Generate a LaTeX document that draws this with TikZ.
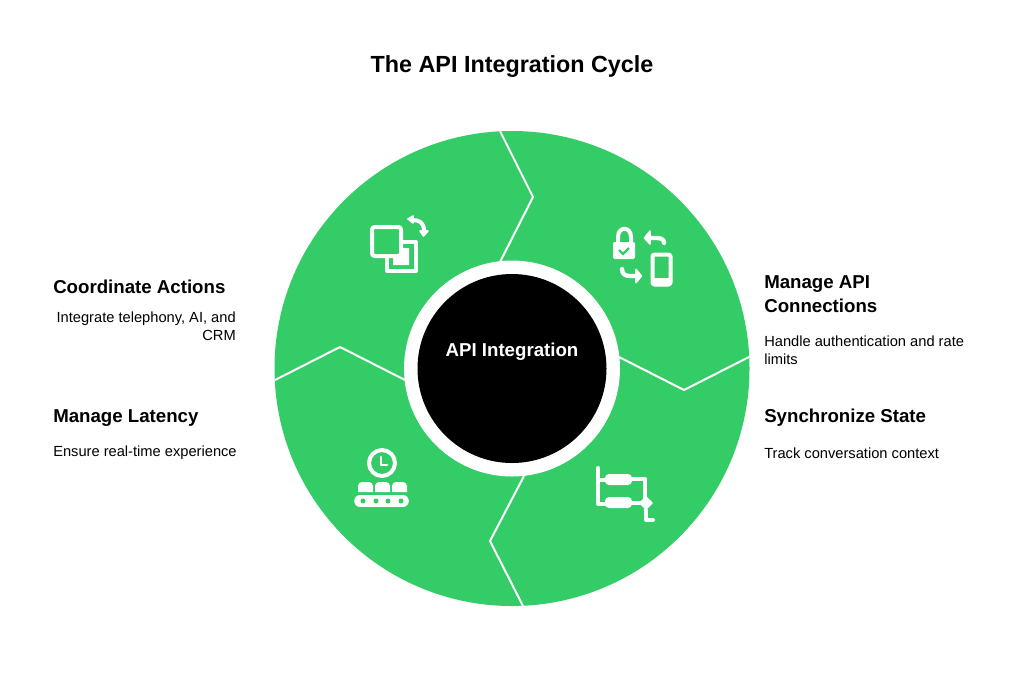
\documentclass[tikz,border=0pt]{standalone}
\usepackage{fontspec}
\setmainfont{Liberation Sans}
\definecolor{wheelgreen}{HTML}{33CC66}
\tikzset{
 titletext/.style={font=\bfseries\fontsize{17.5}{22}\selectfont},
 headtext/.style={font=\bfseries\fontsize{14}{18}\selectfont,align=left,inner sep=0pt},
 bodytext/.style={font=\fontsize{11}{13.5}\selectfont,inner sep=0pt},
 sep/.style={white,line width=1.5pt,line join=miter},
 icon/.style={white,line width=3pt,line cap=round,line join=round},
 tip/.style={draw=white,fill=white,line width=1.2pt,line join=round}
}
\begin{document}
\begin{tikzpicture}[x=0.75pt,y=-0.75pt]
 \useasboundingbox (0,0) rectangle (1024,676);
 \fill[white] (0,0) rectangle (1024,676);
 \node[titletext] (title) at (512,66.5) {The API Integration Cycle};
 % wheel
 \coordinate (hub) at (512,368.5);
 \fill[wheelgreen] (hub) circle[radius=237.5];
 \draw[sep] (500,131) -- (533,197) -- (500,262);
 \draw[sep] (749,357) -- (684,390) -- (619,357);
 \draw[sep] (523,606) -- (490,541) -- (524,476);
 \draw[sep] (275,380) -- (340,347) -- (405,380);
 \fill[white] (hub) circle[radius=108];
 \fill[black] (hub) circle[radius=94.5];
 \node[white,font=\bfseries\fontsize{14}{18}\selectfont] (center) at (512,352) {API Integration};
 % texts left
 \node[headtext,anchor=west] (coord) at (53,286.5) {Coordinate Actions};
 \node[bodytext,align=right,anchor=north east] (coordtext) at (236,311.5) {Integrate telephony, AI, and\\CRM};
 \node[headtext,anchor=west] (latency) at (53,418) {Manage Latency};
 \node[bodytext,anchor=west] (latencytext) at (53,453) {Ensure real-time experience};
 % texts right
 \node[headtext,anchor=north west] (api) at (764,275) {Manage API\\Connections};
 \node[bodytext,align=left,anchor=north west] (apitext) at (764,336) {Handle authentication and rate\\limits};
 \node[headtext,anchor=west] (sync) at (764,418) {Synchronize State};
 \node[bodytext,anchor=west] (synctext) at (764,453) {Track conversation context};
 % icon squares
 \draw[icon,rounded corners=2pt] (372,227) rectangle (401,256);
 \draw[icon] (404,242) -- (416,242) -- (416,271) -- (387,271) -- (387,259);
 \fill[white] (393,256) -- (401,256) -- (401,248) -- (409,248) -- (409,265) -- (393,265) -- cycle;
 \draw[icon] (412,220) .. controls (419,220) and (424,222) .. (424,231);
 \path[tip] (408,219) -- (413,216) -- (413,223) -- cycle;
 \path[tip] (423.5,236) -- (420,231) -- (428,231) -- cycle;
 % icon lock
 \draw[icon] (618,243) -- (618,237) .. controls (618,226) and (631,226) .. (631,237) -- (631,243);
 \fill[white,rounded corners=1.5pt] (613,242) rectangle (635,259);
 \draw[wheelgreen,line width=1.8pt] (619,250) -- (623,254) -- (629,248);
 \draw[icon,line width=3.2pt] (664,243) .. controls (664,239) and (661,238) .. (656,238) -- (648,238);
 \path[tip] (644.5,238) -- (650,231) -- (650,244) -- cycle;
 \draw[icon,rounded corners=1.5pt] (652.5,254.5) rectangle (670.5,284.5);
 \fill[white,rounded corners=1pt] (652,278) rectangle (671,286);
 \draw[icon,line width=3.2pt] (622,269) .. controls (622,274) and (625,276) .. (630,276) -- (637,276);
 \path[tip] (641.5,276) -- (636,269.5) -- (636,282.5) -- cycle;
 % icon clock
 \draw[icon] (382,463) circle[radius=13];
 \draw[icon,line width=2.2pt] (381,457) -- (381,465) -- (387,465);
 \foreach \seat in {358,375,392}
  \fill[white] (\seat,492) -- (\seat,486) arc[start angle=180,end angle=270,radius=4] -- (\seat+11,482) arc[start angle=270,end angle=360,radius=4] -- (\seat+15,492) -- cycle;
 \draw[white,line width=8.7pt,line cap=round] (360,501) -- (403,501);
 \foreach \hole in {363,376,388,401}
  \fill[wheelgreen] (\hole,501) circle[radius=2.5];
 % icon flow
 \draw[icon] (598,468) -- (598,504) -- (606,504);
 \draw[icon] (598,480) -- (606,480);
 \fill[white,rounded corners=3pt] (605,474) rectangle (632,485);
 \fill[white,rounded corners=3pt] (605,497) rectangle (632,508);
 \draw[icon] (632,479) -- (645,479) -- (645,498);
 \draw[icon] (632,503) -- (640,503);
 \path[tip] (646,497) -- (652,503) -- (646,509) -- (640,503) -- cycle;
 \draw[icon] (646,510) -- (646,520) -- (653,520);
\end{tikzpicture}
\end{document}
